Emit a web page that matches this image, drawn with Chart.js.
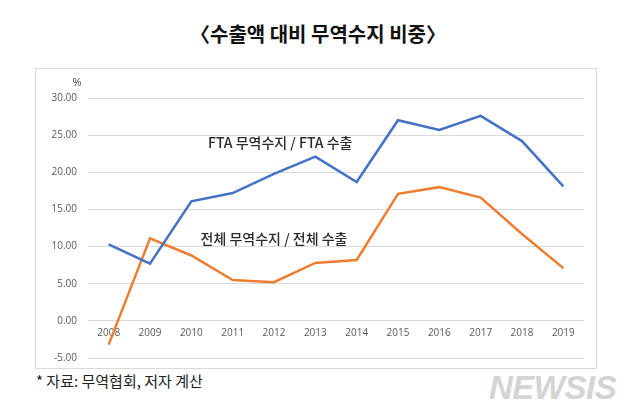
<!DOCTYPE html>
<html>
<head>
<meta charset="utf-8">
<script src="https://cdn.jsdelivr.net/npm/chart.js@4"></script>
<style>
  html, body { margin: 0; padding: 0; background: #fff; }
  body { width: 640px; height: 419px; position: relative; overflow: hidden; }
  #title {
    position: absolute; left: 0; top: 19px; width: 636px; text-align: center;
    font-family: "Noto Sans CJK KR", sans-serif; font-weight: 700; font-size: 20px; color: #111;
  }
  #frame {
    position: absolute; left: 35px; top: 68px; width: 562px; height: 301px;
    box-sizing: border-box; border: 1px solid #d9d9d9;
  }
  #wrap { position: absolute; left: 36px; top: 69px; width: 560px; height: 306px; }
  #note {
    position: absolute; left: 36px; top: 370px;
    font-family: "Noto Sans CJK KR", sans-serif; font-size: 15px; color: #222;
  }
  #mark {
    position: absolute; left: 489px; top: 369px;
    font-family: "Liberation Sans", sans-serif; font-weight: 700; font-style: italic;
    font-size: 33px; color: #d4d4d4; letter-spacing: -0.5px;
  }
</style>
</head>
<body>
<div id="title">〈수출액 대비 무역수지 비중〉</div>
<div id="frame"></div>
<div id="note">* 자료: 무역협회, 저자 계산</div>
<div id="mark">NEWSIS</div>
<div id="wrap"><canvas id="lineChart"></canvas></div>
<script>
const years = ['2008', '2009', '2010', '2011', '2012', '2013', '2014', '2015', '2016', '2017', '2018', '2019'];
const ftaRatio = [10.3, 7.7, 16.1, 17.2, 19.8, 22.1, 18.7, 27.0, 25.7, 27.6, 24.2, 18.1];
const totalRatio = [-3.2, 11.1, 8.8, 5.5, 5.2, 7.8, 8.2, 17.1, 18.0, 16.6, 11.7, 7.1];
const seriesNames = ['FTA 무역수지 / FTA 수출', '전체 무역수지 / 전체 수출'];
const yTicks = { min: -5, max: 30, step: 5 };

// series labels placed in data coordinates (category index, value)
const labelSpots = [[4.15, 24.0], [4.0, 11.0]];

const seriesLabels = {
    id: 'seriesLabels',
    afterDatasetsDraw(chart) {
        const { ctx, scales: { x, y } } = chart;
        ctx.save();
        ctx.font = '500 14px "Noto Sans CJK KR", sans-serif';
        ctx.fillStyle = '#2b2b2b';
        ctx.textAlign = 'center';
        ctx.textBaseline = 'middle';
        labelSpots.forEach((p, i) => {
            ctx.fillText(seriesNames[i], x.getPixelForValue(p[0]), y.getPixelForValue(p[1]));
        });
        // unit label above the axis
        ctx.font = '11px "Open Sans", sans-serif';
        ctx.fillStyle = '#444';
        ctx.fillText('%', y.right - 11, y.getPixelForValue(yTicks.max) - 15);
        ctx.restore();
    }
};

const ctx = document.getElementById('lineChart').getContext('2d');

const chart = new Chart(ctx, {
    type: 'line',
    data: {
        labels: years,
        datasets: [{
            label: seriesNames[0],
            data: ftaRatio,
            borderColor: '#4472c4',
            borderWidth: 2.5,
            pointRadius: 0,
            tension: 0
        }, {
            label: seriesNames[1],
            data: totalRatio,
            borderColor: '#ed7d31',
            borderWidth: 2.5,
            pointRadius: 0,
            tension: 0
        }]
    },
    options: {
        responsive: true,
        maintainAspectRatio: false,
        animation: false,
        layout: { padding: { left: 0, right: 12, top: 29, bottom: 4 } },
        plugins: {
            legend: { display: false },
            tooltip: { enabled: false }
        },
        scales: {
            x: {
                type: 'category',
                offset: true,
                position: { y: 0 },
                grid: { display: false, drawTicks: false },
                border: { display: false },
                ticks: {
                    color: '#595959',
                    padding: 6,
                    maxRotation: 0,
                    font: { family: '"Open Sans", sans-serif', size: 10 }
                },
                afterFit: function(axis) { axis.height = 0; }
            },
            y: {
                min: yTicks.min,
                max: yTicks.max,
                grid: { color: '#d9d9d9', drawTicks: false },
                border: { display: false },
                ticks: {
                    stepSize: yTicks.step,
                    color: '#595959',
                    padding: 11,
                    font: { family: '"Open Sans", sans-serif', size: 10 },
                    callback: v => v.toFixed(2)
                },
                afterFit: function(axis) { axis.width = 52; }
            }
        }
    },
    plugins: [seriesLabels]
});
</script>
</body>
</html>
